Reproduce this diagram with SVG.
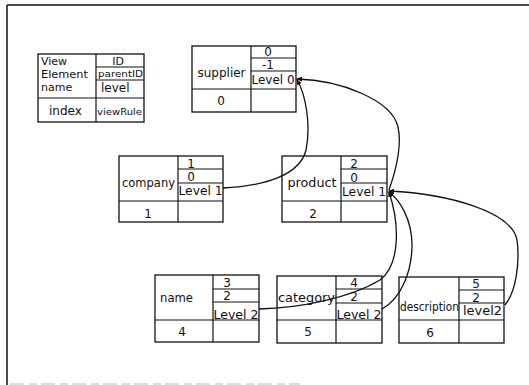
<svg xmlns="http://www.w3.org/2000/svg" width="529" height="385" viewBox="0 0 529 385">
<defs>
<style>
.bx{fill:#fff;stroke:#111;stroke-width:1.3}
.ln{stroke:#111;stroke-width:1.2;fill:none}
.t{font-family:"DejaVu Sans","Liberation Sans",sans-serif;font-size:12px;fill:#111}
.m{text-anchor:middle}
.s{font-size:11px}
.xs{font-size:9px}
.cn{fill:none;stroke:#111;stroke-width:1.3}
</style>
<marker id="blob" viewBox="0 0 6 6" refX="5" refY="3" markerWidth="6" markerHeight="6" markerUnits="userSpaceOnUse" orient="auto">
<path d="M0,0.5 L6,3 L0,5.5 z" fill="#111"/>
</marker>
</defs>
<rect width="529" height="385" fill="#fff"/>
<g id="frame">
<line x1="7" y1="5" x2="529" y2="5" stroke="#111" stroke-width="1.5"/>
<line x1="7" y1="5" x2="7" y2="385" stroke="#111" stroke-width="1.5"/>
<line x1="10" y1="384" x2="300" y2="384" stroke="#bbb" stroke-width="1" stroke-dasharray="14 5 8 4"/>
</g>

<g id="legend" transform="translate(38,54)">
<rect class="bx" x="0" y="0" width="106" height="68"/>
<line class="ln" x1="58" y1="0" x2="58" y2="68"/>
<line class="ln" x1="0" y1="44" x2="106" y2="44"/>
<line class="ln" x1="58" y1="13" x2="106" y2="13"/>
<line class="ln" x1="58" y1="26" x2="106" y2="26"/>
<text class="t s" x="3" y="11">View</text>
<text class="t s" x="3" y="24" textLength="47" lengthAdjust="spacingAndGlyphs">Element</text>
<text class="t s" x="3" y="37">name</text>
<text class="t" x="11" y="61" font-size="13">index</text>
<text class="t s m" x="80" y="11">ID</text>
<text class="t xs" x="60" y="23" textLength="45" lengthAdjust="spacingAndGlyphs">parentID</text>
<text class="t" x="63" y="38" font-size="13">level</text>
<text class="t xs" x="59" y="61" textLength="45" lengthAdjust="spacingAndGlyphs">viewRule</text>
</g>

<g id="supplier" transform="translate(192,46)">
<rect class="bx" x="0" y="0" width="104" height="66"/>
<line class="ln" x1="59" y1="0" x2="59" y2="66"/>
<line class="ln" x1="0" y1="43" x2="104" y2="43"/>
<line class="ln" x1="59" y1="12" x2="104" y2="12"/>
<line class="ln" x1="59" y1="25" x2="104" y2="25"/>
<text class="t m" x="29.5" y="31">supplier</text>
<text class="t m" x="29" y="59">0</text>
<text class="t m" x="76" y="10">0</text>
<text class="t m" x="76" y="23">-1</text>
<text class="t" x="59.5" y="38" textLength="43" lengthAdjust="spacingAndGlyphs">Level 0</text>
</g>

<g id="company" transform="translate(119,156)">
<rect class="bx" x="0" y="0" width="104" height="66"/>
<line class="ln" x1="59" y1="0" x2="59" y2="66"/>
<line class="ln" x1="0" y1="45" x2="104" y2="45"/>
<line class="ln" x1="59" y1="13" x2="104" y2="13"/>
<line class="ln" x1="59" y1="27" x2="104" y2="27"/>
<text class="t m" x="29.5" y="31" textLength="53" lengthAdjust="spacingAndGlyphs">company</text>
<text class="t m" x="29" y="62">1</text>
<text class="t m" x="72" y="12">1</text>
<text class="t m" x="72" y="25">0</text>
<text class="t" x="59.5" y="39" textLength="44" lengthAdjust="spacingAndGlyphs">Level 1</text>
</g>

<g id="product" transform="translate(282,156)">
<rect class="bx" x="0" y="0" width="105" height="66"/>
<line class="ln" x1="59" y1="0" x2="59" y2="66"/>
<line class="ln" x1="0" y1="45" x2="105" y2="45"/>
<line class="ln" x1="59" y1="13" x2="105" y2="13"/>
<line class="ln" x1="59" y1="27" x2="105" y2="27"/>
<text class="t m" x="30" y="31" textLength="49" lengthAdjust="spacingAndGlyphs">product</text>
<text class="t m" x="31" y="62">2</text>
<text class="t m" x="72" y="12">2</text>
<text class="t m" x="72" y="26">0</text>
<text class="t" x="60" y="40" textLength="44" lengthAdjust="spacingAndGlyphs">Level 1</text>
</g>

<g id="name" transform="translate(155,275)">
<rect class="bx" x="0" y="0" width="104" height="67"/>
<line class="ln" x1="58" y1="0" x2="58" y2="67"/>
<line class="ln" x1="0" y1="45" x2="104" y2="45"/>
<line class="ln" x1="58" y1="14" x2="104" y2="14"/>
<line class="ln" x1="58" y1="27" x2="104" y2="27"/>
<text class="t" x="5" y="27" textLength="33" lengthAdjust="spacingAndGlyphs">name</text>
<text class="t m" x="27" y="61">4</text>
<text class="t m" x="72" y="12">3</text>
<text class="t m" x="72" y="25">2</text>
<text class="t" x="58.5" y="44" textLength="45" lengthAdjust="spacingAndGlyphs">Level 2</text>
</g>

<g id="category" transform="translate(277,276)">
<rect class="bx" x="0" y="0" width="105" height="67"/>
<line class="ln" x1="59" y1="0" x2="59" y2="67"/>
<line class="ln" x1="0" y1="44" x2="105" y2="44"/>
<line class="ln" x1="59" y1="13" x2="105" y2="13"/>
<line class="ln" x1="59" y1="27" x2="105" y2="27"/>
<text class="t" x="1" y="26" textLength="57" lengthAdjust="spacingAndGlyphs">category</text>
<text class="t m" x="31" y="60">5</text>
<text class="t m" x="77" y="11">4</text>
<text class="t m" x="77" y="25">2</text>
<text class="t" x="59.5" y="43" textLength="45" lengthAdjust="spacingAndGlyphs">Level 2</text>
</g>

<g id="description" transform="translate(399,277)">
<rect class="bx" x="0" y="0" width="105" height="66"/>
<line class="ln" x1="60" y1="0" x2="60" y2="66"/>
<line class="ln" x1="0" y1="43" x2="105" y2="43"/>
<line class="ln" x1="60" y1="13" x2="105" y2="13"/>
<line class="ln" x1="60" y1="26" x2="105" y2="26"/>
<text class="t" x="1" y="34" textLength="59" lengthAdjust="spacingAndGlyphs">description</text>
<text class="t m" x="31" y="60">6</text>
<text class="t m" x="77" y="11">5</text>
<text class="t m" x="77" y="25">2</text>
<text class="t" x="64" y="38" textLength="39" lengthAdjust="spacingAndGlyphs">level2</text>
</g>

<g id="connectors">
<path class="cn" d="M223,188 C265,186 300,175 306,150 C311,125 306,95 297,80" marker-end="url(#blob)"/>
<path class="cn" d="M389,190 C396,170 402,145 398,127 C392,100 340,80 297,79" marker-end="url(#blob)"/>
<path class="cn" d="M505,305 C516,292 520,262 517,240 C512,212 450,194 389,191" marker-end="url(#blob)"/>
<path class="cn" d="M382,309 C402,298 412,270 412,245 C412,220 400,200 389,192" marker-end="url(#blob)"/>
<path class="cn" d="M259,309 C300,308 350,298 380,280 C400,265 400,225 389,192" marker-end="url(#blob)"/>
</g>
</svg>
